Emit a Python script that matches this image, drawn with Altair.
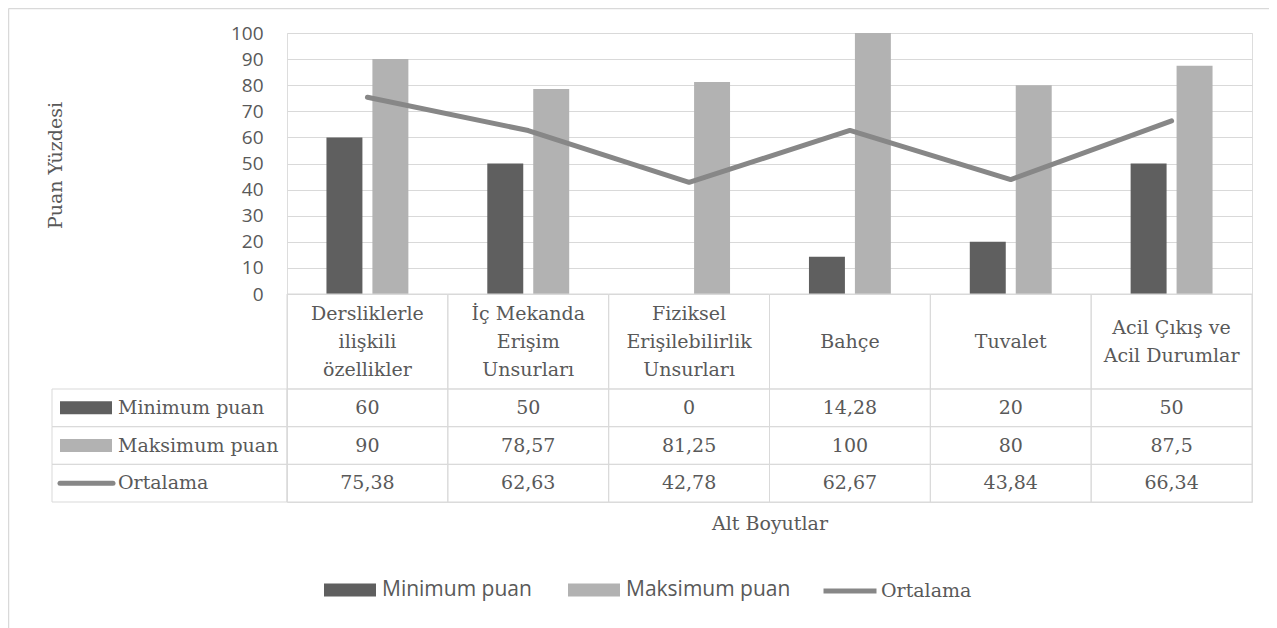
import altair as alt
import pandas as pd

# ---------------- data ----------------
categories = [
    "Dersliklerle ilişkili özellikler",
    "İç Mekanda Erişim Unsurları",
    "Fiziksel Erişilebilirlik Unsurları",
    "Bahçe",
    "Tuvalet",
    "Acil Çıkış ve Acil Durumlar",
]
header_lines = [
    "Dersliklerle\nilişkili\nözellikler",
    "İç Mekanda\nErişim\nUnsurları",
    "Fiziksel\nErişilebilirlik\nUnsurları",
    "Bahçe",
    "Tuvalet",
    "Acil Çıkış ve\nAcil Durumlar",
]
series_names = ["Minimum puan", "Maksimum puan", "Ortalama"]
min_scores = [60, 50, 0, 14.28, 20, 50]
max_scores = [90, 78.57, 81.25, 100, 80, 87.5]
mean_scores = [75.38, 62.63, 42.78, 62.67, 43.84, 66.34]
y_ticks = list(range(0, 101, 10))

records = []
for i, cat in enumerate(categories):
    for name, vals in zip(series_names, [min_scores, max_scores, mean_scores]):
        records.append({"kategori": cat, "seri": name, "deger": vals[i]})
long_df = pd.DataFrame(records)

head_records = []
for cat, text in zip(categories, header_lines):
    parts = text.split("\n")
    n = len(parts)
    for i, p in enumerate(parts):
        head_records.append({"kategori": cat, "satir": p, "konum": i - (n - 1) / 2})
head_text_df = pd.DataFrame(head_records)
header_df = pd.DataFrame({"kategori": categories, "bolum": "baslik"})
row_df = pd.DataFrame({"seri": series_names})
frame_df = pd.DataFrame({"k": [0]})

# ---------------- style ----------------
W, H = 965, 469
GRID = "#d9d9d9"
TEXT = "#595959"
SERIF = "DejaVu Serif"
SANS = "Open Sans"
BAR_COLORS = ["#5f5f5f", "#b2b2b2"]
LINE_COLOR = "#878787"

x_axis = alt.Axis(title="Alt Boyutlar", labels=False, ticks=False, domain=False, grid=False,
                  titleFont=SERIF, titleFontSize=19, titleFontWeight="normal",
                  titleColor=TEXT, titlePadding=12)
x_scale = alt.Scale(domain=categories, paddingInner=0, paddingOuter=0)


def X():
    return alt.X("kategori:N", scale=x_scale, axis=x_axis)


value_scale = alt.Scale(domain=[0, 100], range=[261, 0], nice=False)
row_scale = alt.Scale(domain=series_names, range=[356, 469], paddingInner=0, paddingOuter=0)
head_scale = alt.Scale(domain=["baslik"], range=[261, 356], paddingInner=0, paddingOuter=0)
line_pos_scale = alt.Scale(domain=[-1, 1], range=[281, 337], nice=False, zero=False)
color_scale = alt.Scale(domain=series_names[:2], range=BAR_COLORS)
stroke_scale = alt.Scale(domain=["Ortalama"], range=[LINE_COLOR])

legend_bars = alt.Legend(title=None, orient="none", legendX=37, legendY=531, direction="horizontal",
                         symbolType="M-1,-0.25H1V0.25H-1Z", symbolSize=2704, symbolStrokeWidth=0,
                         symbolOpacity=1, labelFont=SANS, labelFontSize=21, labelColor=TEXT,
                         labelOffset=6, columnPadding=36, padding=0, labelLimit=400)
legend_line = alt.Legend(title=None, orient="none", legendX=534, legendY=529, direction="horizontal",
                         symbolType="stroke", symbolSize=2809, symbolStrokeWidth=5, symbolOpacity=1,
                         labelFont=SERIF, labelFontSize=19, labelColor=TEXT, labelOffset=2,
                         padding=0, labelLimit=400)

y_axis = alt.Axis(title="Puan Yüzdesi", values=y_ticks, grid=True, gridColor=GRID, gridWidth=1,
                  domain=False, ticks=False, tickSize=0, labelPadding=24,
                  labelFont=SANS, labelFontSize=19, labelColor=TEXT,
                  titleFont=SERIF, titleFontSize=19, titleFontWeight="normal", titleColor=TEXT,
                  titleX=-232, titleY=132, titleAngle=270, titleBaseline="middle", titleAlign="center")

# ---------------- layers ----------------
frame_top = alt.Chart(frame_df).mark_rule(color=GRID, strokeWidth=1.5).encode(
    x=alt.value(-278.5), x2=alt.value(982), y=alt.value(-24.5))
frame_left = alt.Chart(frame_df).mark_rule(color=GRID, strokeWidth=1.5).encode(
    x=alt.value(-278.5), y=alt.value(-24.5), y2=alt.value(595))

head_cells = alt.Chart(header_df).mark_rect(fill="transparent", stroke=GRID, strokeWidth=1).encode(
    x=X(), y=alt.Y("bolum:N", scale=head_scale, axis=None))
head_text = alt.Chart(head_text_df).mark_text(font=SERIF, fontSize=19, color=TEXT,
                                              baseline="middle").encode(
    x=X(), y=alt.Y("konum:Q", scale=line_pos_scale, axis=None), text="satir:N")

value_cells = alt.Chart(long_df).mark_rect(fill="transparent", stroke=GRID, strokeWidth=1).encode(
    x=X(), y=alt.Y("seri:N", scale=row_scale, axis=None))
value_text = alt.Chart(long_df).transform_calculate(
    etiket="replace(toString(datum.deger), '.', ',')"
).mark_text(font=SERIF, fontSize=19, color=TEXT, baseline="middle").encode(
    x=X(), y=alt.Y("seri:N", scale=row_scale, axis=None), text="etiket:N")

label_cells = alt.Chart(row_df).mark_rect(fill="transparent", stroke=GRID, strokeWidth=1).encode(
    x=alt.value(-235), x2=alt.value(0), y=alt.Y("seri:N", scale=row_scale, axis=None))
label_text = alt.Chart(row_df).mark_text(font=SERIF, fontSize=19, color=TEXT, align="left",
                                         baseline="middle").encode(
    x=alt.value(-169), y=alt.Y("seri:N", scale=row_scale, axis=None), text="seri:N")
swatch_bars = alt.Chart(row_df).transform_filter(
    alt.FieldOneOfPredicate(field="seri", oneOf=series_names[:2])
).mark_rect(height=13).encode(
    x=alt.value(-227), x2=alt.value(-175), y=alt.Y("seri:N", scale=row_scale, axis=None),
    color=alt.Color("seri:N", scale=color_scale, legend=legend_bars))
swatch_line = alt.Chart(row_df).transform_filter(
    alt.datum.seri == "Ortalama"
).mark_rule(strokeWidth=5, strokeCap="round").encode(
    x=alt.value(-227), x2=alt.value(-174), y=alt.Y("seri:N", scale=row_scale, axis=None),
    stroke=alt.Stroke("seri:N", scale=stroke_scale, legend=legend_line))

bars = alt.Chart(long_df).transform_filter(
    alt.FieldOneOfPredicate(field="seri", oneOf=series_names[:2])
).mark_bar().encode(
    x=X(),
    xOffset=alt.XOffset("seri:N", scale=alt.Scale(domain=series_names[:2], paddingInner=0.2174,
                                                  paddingOuter=0.8587)),
    y=alt.Y("deger:Q", scale=value_scale, axis=y_axis),
    color=alt.Color("seri:N", scale=color_scale, legend=legend_bars),
)
line = alt.Chart(long_df).transform_filter(
    alt.datum.seri == "Ortalama"
).mark_line(strokeWidth=5, strokeCap="round", strokeJoin="round").encode(
    x=X(),
    y=alt.Y("deger:Q", scale=value_scale, axis=None),
    stroke=alt.Stroke("seri:N", scale=stroke_scale, legend=legend_line),
)

chart = alt.layer(
    bars, frame_top, frame_left, head_cells, value_cells, label_cells,
    line, head_text, value_text, label_text, swatch_bars, swatch_line,
).resolve_scale(y="independent").properties(
    width=W, height=H,
    autosize=alt.AutoSizeParams(type="none"),
    padding={"left": 279, "top": 25, "right": 17, "bottom": 126},
).configure_view(strokeWidth=0).configure(background="white")

chart.save("out.html", embed_options={"renderer": "svg", "actions": False})
